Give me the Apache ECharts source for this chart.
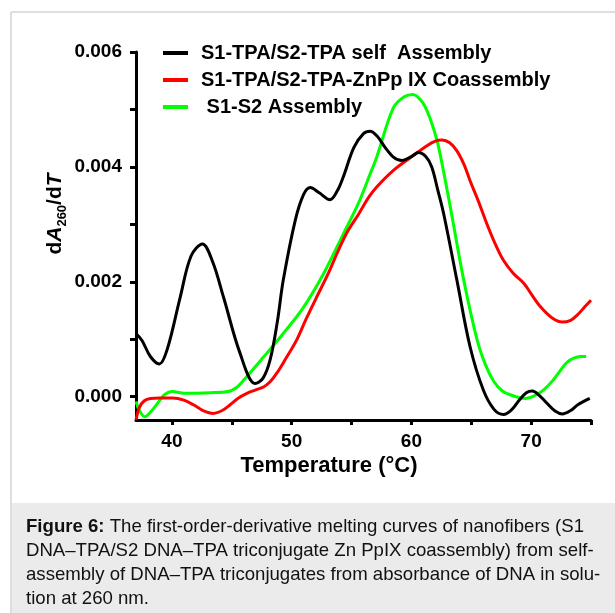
<!DOCTYPE html>
<html>
<head>
<meta charset="utf-8">
<script src="https://cdn.jsdelivr.net/npm/echarts@6.0.0/dist/echarts.min.js"></script>
<style>
html,body{margin:0;padding:0;background:#fff;}
#chart{width:615px;height:613px;}
</style>
</head>
<body>
<div id="chart"></div>
<script>
// ---- Data (temperature in °C, dA260/dT) ----
const seriesNames = ['S1-TPA/S2-TPA self  Assembly', 'S1-TPA/S2-TPA-ZnPp IX Coassembly', ' S1-S2 Assembly'];
const seriesColors = ['#000000', '#ff0000', '#00ff00'];

const blackData = [
  [37.0,0.00110],[37.5,0.00098],[38.2,0.00070],[38.95,0.00057],[39.6,0.00082],[40.7,0.00174],
  [41.6,0.00245],[42.55,0.00266],[43.4,0.00235],[44.3,0.00174],[45.7,0.00075],[46.95,0.00023],
  [47.6,0.00032],[48.2,0.00064],[48.8,0.00130],[49.3,0.00203],[50.3,0.00307],[51.0,0.00352],
  [51.55,0.00364],[52.3,0.00355],[53.2,0.00343],[53.8,0.00358],[54.3,0.00382],[55.2,0.00434],
  [56.0,0.00458],[56.55,0.00462],[57.2,0.00452],[57.8,0.00434],[58.5,0.00417],[59.2,0.00411],
  [60.0,0.00418],[60.6,0.00425],[61.2,0.00418],[61.7,0.00400],[62.2,0.00360],[62.7,0.00318],
  [63.8,0.00203],[64.9,0.00087],[66.0,0.00012],[66.9,-0.00022],[67.7,-0.00031],[68.4,-0.00022],
  [69.0,-0.00006],[69.6,0.00007],[70.1,0.00010],[70.7,0.00002],[71.3,-0.00011],[72.0,-0.00025],
  [72.6,-0.00030],[73.3,-0.00024],[73.9,-0.00014],[74.9,-0.00003]
];

const redData = [
  [37.0,-0.00040],[37.3,-0.00018],[37.7,-0.00007],[38.2,-0.00003],[39.0,-0.00002],[40.1,-0.00002],
  [41.0,-0.00006],[41.8,-0.00014],[42.6,-0.00024],[43.46,-0.00029],[44.2,-0.00024],[44.86,-0.00014],
  [45.5,-0.00003],[46.26,0.00006],[47.0,0.00012],[47.65,0.00017],[48.2,0.00026],[48.76,0.00041],
  [49.5,0.00066],[50.4,0.00098],[51.2,0.00135],[52.1,0.00174],[53.0,0.00212],[53.78,0.00249],
  [54.6,0.00285],[55.6,0.00318],[56.4,0.00346],[57.1,0.00365],[58.5,0.00394],[59.9,0.00416],
  [61.3,0.00437],[62.0,0.00445],[62.56,0.00447],[63.2,0.00442],[63.8,0.00428],[64.4,0.00404],
  [64.9,0.00376],[65.6,0.00340],[66.3,0.00301],[67.0,0.00266],[67.7,0.00237],[68.5,0.00215],
  [69.4,0.00197],[70.1,0.00176],[70.8,0.00156],[71.7,0.00138],[72.6,0.00130],[73.3,0.00133],
  [73.85,0.00142],[74.5,0.00157],[75.0,0.00168]
];

const greenData = [
  [37.0,-0.00008],[37.3,-0.00025],[37.75,-0.00035],[38.2,-0.00027],[39.0,-0.00006],[39.4,0.00004],
  [40.0,0.00009],[41.2,0.00006],[43.2,0.00007],[44.7,0.00009],[45.4,0.00016],[46.0,0.00029],
  [47.65,0.00069],[49.3,0.00110],[51.0,0.00156],[52.66,0.00214],[54.33,0.00284],[55.6,0.00338],
  [56.5,0.00385],[57.1,0.00417],[58.5,0.00503],[59.4,0.00522],[60.13,0.00526],[60.8,0.00516],
  [61.3,0.00498],[61.8,0.00470],[62.28,0.00434],[63.25,0.00330],[64.37,0.00203],[65.5,0.00098],
  [66.2,0.00055],[66.9,0.00026],[67.6,0.00010],[68.3,0.00003],[69.5,-0.00003],[70.3,0.00002],
  [71.05,0.00012],[71.8,0.00028],[72.45,0.00046],[73.0,0.00060],[73.56,0.00067],[74.1,0.00070],
  [74.6,0.00070]
];

const xTicks = [40, 45, 50, 55, 60, 65, 70, 75];
const xLabels = [40, 50, 60, 70];
const yTicks = [0, 0.001, 0.002, 0.003, 0.004, 0.005, 0.006];
const yLabels = [0, 0.002, 0.004, 0.006];
const xRange = [37, 75];
const yRange = [-0.000405, 0.006];

const xTitle = 'Temperature (°C)';
const captionBold = 'Figure 6:';
const captionLines = [
  ' The first-order-derivative melting curves of nanofibers (S1',
  'DNA–TPA/S2 DNA–TPA triconjugate Zn PpIX coassembly) from self-',
  'assembly of DNA–TPA triconjugates from absorbance of DNA in solu-',
  'tion at 260 nm.'
];

// ---- Chart ----
const FONT = '"Liberation Sans", Arial, sans-serif';
const chart = echarts.init(document.getElementById('chart'));

const lineSeries = [blackData, redData, greenData].map((d, i) => ({
  name: seriesNames[i],
  type: 'line',
  data: d,
  smooth: 0.35,
  symbol: 'none',
  lineStyle: {color: seriesColors[i], width: 3},
  itemStyle: {color: seriesColors[i]},
  z: 5 - i
}));

const option = {
  animation: false,
  grid: {left: 136, right: 24, top: 52, bottom: 193},
  legend: {
    orient: 'vertical', left: 158, top: 38,
    itemWidth: 25, itemHeight: 4, itemGap: 7, icon: 'rect',
    textStyle: {fontFamily: FONT, fontSize: 20, fontWeight: 'bold', color: '#000', lineHeight: 20, padding: [0, 0, 0, 8]},
    data: seriesNames
  },
  xAxis: {
    type: 'value', min: xRange[0], max: xRange[1],
    axisLine: {show: true, onZero: false, lineStyle: {color: '#000', width: 3}},
    axisTick: {show: true, customValues: xTicks, length: 5, lineStyle: {color: '#000', width: 3}},
    axisLabel: {customValues: xLabels, margin: 12, fontFamily: FONT, fontSize: 19, fontWeight: 'bold', color: '#000'},
    splitLine: {show: false}
  },
  yAxis: {
    type: 'value', min: yRange[0], max: yRange[1],
    axisLine: {show: true, onZero: false, lineStyle: {color: '#000', width: 3}},
    axisTick: {show: true, customValues: yTicks, length: 6, lineStyle: {color: '#000', width: 3}},
    axisLabel: {customValues: yLabels, margin: 14, fontFamily: FONT, fontSize: 19, fontWeight: 'bold', color: '#000',
      formatter: v => Number(v).toFixed(3)},
    splitLine: {show: false}
  },
  series: lineSeries,
  graphic: [
    {type: 'line', shape: {x1: 11, y1: 12, x2: 615, y2: 12}, style: {stroke: '#dedede', lineWidth: 2}, silent: true},
    {type: 'line', shape: {x1: 11, y1: 12, x2: 11, y2: 613}, style: {stroke: '#dedede', lineWidth: 2}, silent: true},
    {type: 'rect', shape: {x: 12, y: 503, width: 603, height: 110}, style: {fill: '#ebebeb'}, silent: true},
    {
      type: 'text', x: 26, y: 515, silent: true,
      style: {
        text: '{b|' + captionBold + '}' + captionLines.join('\n'),
        fill: '#111', fontFamily: FONT, fontSize: 18.6, lineHeight: 24,
        rich: {b: {fontFamily: FONT, fontSize: 18.6, fontWeight: 'bold', lineHeight: 24, fill: '#111'}}
      }
    },
    {
      type: 'text', x: 329, y: 466, silent: true,
      style: {
        text: xTitle, fill: '#000', fontFamily: FONT, fontSize: 22, fontWeight: 'bold',
        align: 'center', verticalAlign: 'middle', textAlign: 'center', textVerticalAlign: 'middle'
      }
    },
    {
      type: 'text', x: 55, y: 214, rotation: Math.PI / 2, silent: true,
      style: {
        text: '{m|d}{i|A}{s|260}{m|/d}{i|T}',
        align: 'center', verticalAlign: 'middle', textAlign: 'center', textVerticalAlign: 'middle',
        fill: '#000', fontFamily: FONT, fontSize: 21, fontWeight: 'bold',
        rich: {
          m: {fontFamily: FONT, fontSize: 21, fontWeight: 'bold', lineHeight: 28, fill: '#000', verticalAlign: 'middle'},
          i: {fontFamily: FONT, fontSize: 21, fontWeight: 'bold', fontStyle: 'italic', lineHeight: 28, fill: '#000', verticalAlign: 'middle'},
          s: {fontFamily: FONT, fontSize: 13, fontWeight: 'bold', lineHeight: 13, fill: '#000', verticalAlign: 'bottom'}
        }
      }
    }
  ]
};
chart.setOption(option);
</script>
</body>
</html>
